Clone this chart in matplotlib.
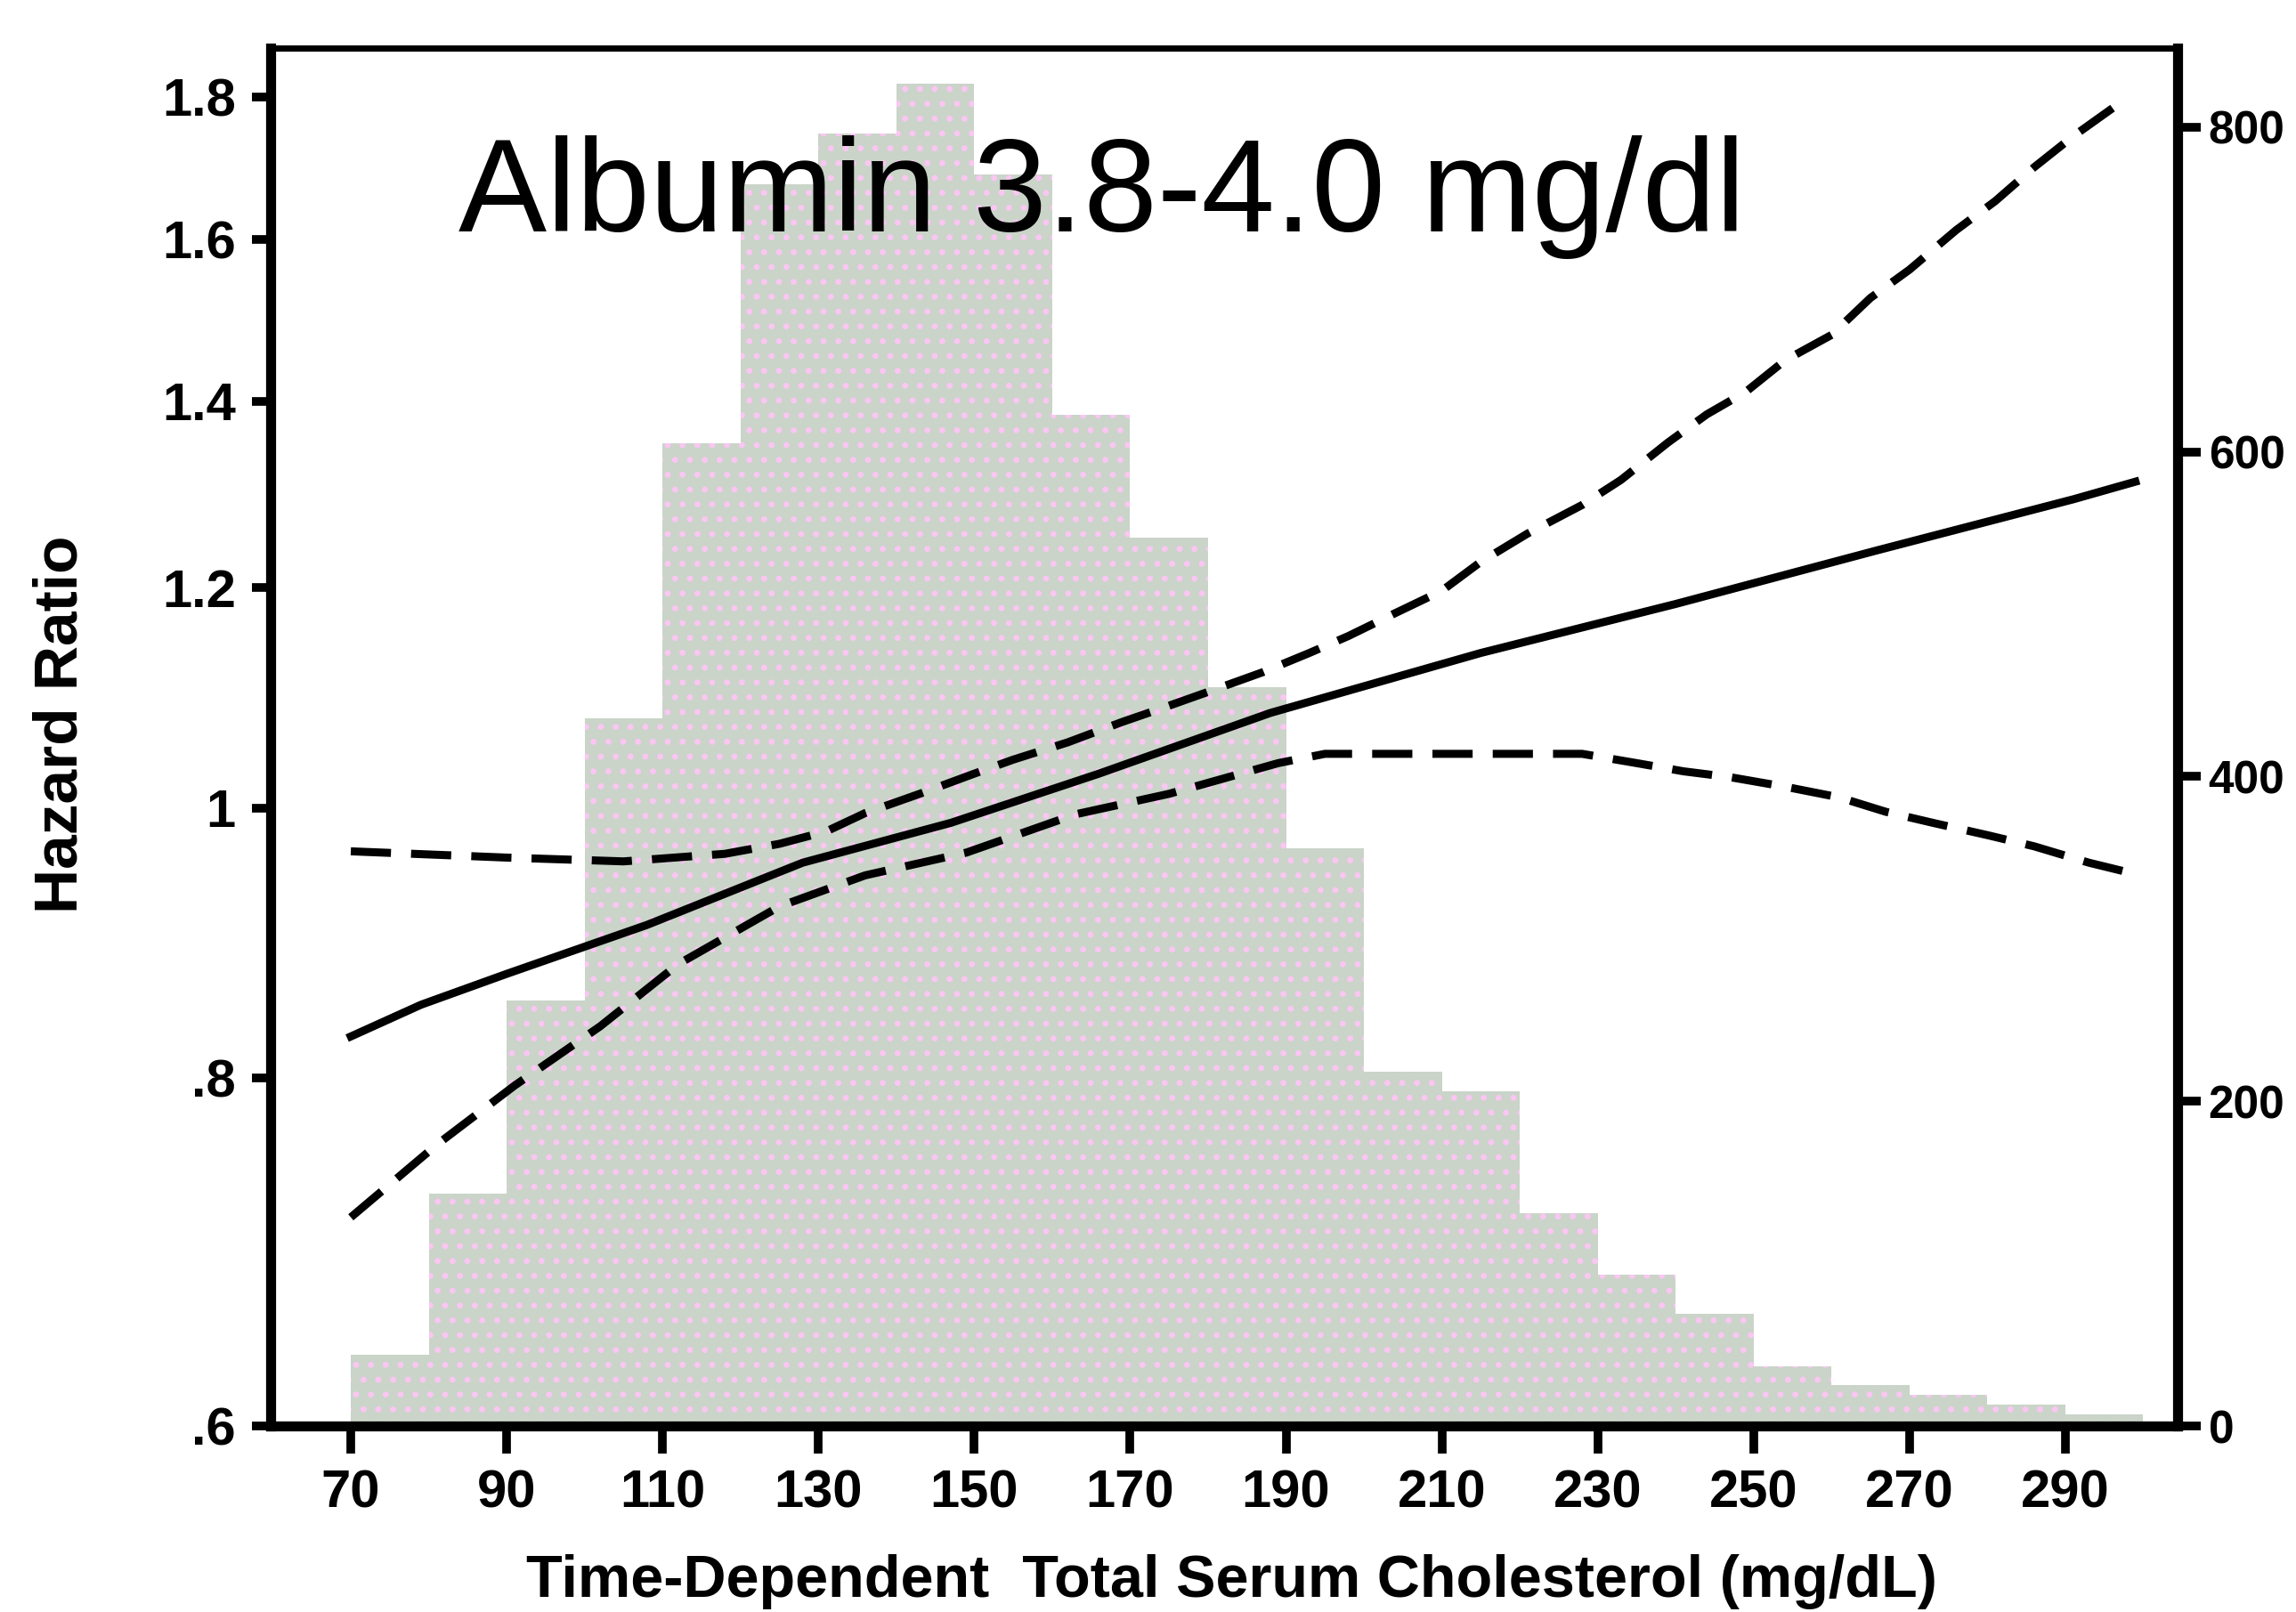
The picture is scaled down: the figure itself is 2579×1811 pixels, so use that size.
#!/usr/bin/env python
#
# Hazard ratio of time-dependent total serum cholesterol (albumin 3.8-4.0 mg/dl)
# with a histogram of the cholesterol distribution on the right axis.

import matplotlib
matplotlib.use("Agg")
import matplotlib.pyplot as plt
import matplotlib.ticker as mt

# Histogram: left edge of each 10 mg/dL bin and the number of observations
bin_starts = [70, 80, 90, 100, 110, 120, 130, 140, 150, 160, 170, 180,
              190, 200, 210, 220, 230, 240, 250, 260, 270, 280, 290]
counts = [44, 143, 262, 436, 605, 765, 796, 827, 771, 623, 547, 455,
          356, 218, 206, 131, 93, 69, 37, 25, 19, 13, 7]

# Hazard ratio curve
hr_x = [70, 79, 90, 108, 128, 147, 166, 188, 215, 240, 266, 291, 299]
hr = [0.828, 0.850, 0.872, 0.908, 0.956, 0.988, 1.029, 1.082, 1.137,
      1.184, 1.238, 1.291, 1.310]

# Upper confidence limit
upper_x = [70, 90, 105, 118, 125, 131, 136, 143, 150, 155, 162, 169, 174,
           180, 187, 193, 198, 204, 210, 215, 221, 228, 233, 239, 244, 249,
           254, 260, 265, 270, 276, 281, 286, 291, 298]
upper = [0.965, 0.960, 0.957, 0.963, 0.971, 0.981, 0.996, 1.012, 1.029,
         1.041, 1.056, 1.074, 1.086, 1.101, 1.119, 1.137, 1.153, 1.175,
         1.197, 1.226, 1.255, 1.285, 1.312, 1.353, 1.385, 1.411, 1.448,
         1.479, 1.525, 1.561, 1.613, 1.652, 1.699, 1.743, 1.800]

# Lower confidence limit
lower_x = [70, 81, 91, 102, 112, 125, 136, 149, 163, 175, 189, 195, 201,
           215, 228, 235, 241, 247, 254, 261, 267, 273, 280, 286, 293, 299]
lower = [0.713, 0.757, 0.795, 0.835, 0.879, 0.922, 0.946, 0.964, 0.995,
         1.012, 1.038, 1.046, 1.046, 1.046, 1.046, 1.038, 1.031, 1.026,
         1.018, 1.009, 0.997, 0.988, 0.978, 0.969, 0.956, 0.947]

x_ticks = [70, 90, 110, 130, 150, 170, 190, 210, 230, 250, 270, 290]
hr_ticks = [0.6, 0.8, 1.0, 1.2, 1.4, 1.6, 1.8]
hr_tick_labels = [".6", ".8", "1", "1.2", "1.4", "1.6", "1.8"]
count_ticks = [0, 200, 400, 600, 800]

plt.rcParams["font.family"] = ["Liberation Sans", "DejaVu Sans"]
plt.rcParams["hatch.linewidth"] = 2.5

fig = plt.figure(figsize=(25.79, 18.11), dpi=100)
ax = fig.add_axes([0.1177, 0.1154, 0.8307, 0.8548])
ax2 = ax.twinx()

# histogram on the right axis, behind the curves
ax2.bar(bin_starts, counts, width=10, align="edge", color="#CAD4C9",
        edgecolor="#FAC6F2", linewidth=0, hatch=".")
ax2.set_ylim(0, 848.7)
ax2.set_yticks(count_ticks)
ax2.set_yticklabels([str(c) for c in count_ticks])

ax.set_zorder(ax2.get_zorder() + 1)
ax.patch.set_visible(False)

dash = (0, (5, 2.5))
ax.plot(hr_x, hr, color="black", lw=6.5)
ax.plot(upper_x, upper, color="black", lw=6.5, ls=dash)
ax.plot(lower_x, lower, color="black", lw=6.5, ls=dash)

ax.set_yscale("log")
ax.set_ylim(0.6, 1.875)
ax.set_xlim(59.66, 304.4)
ax.set_yticks(hr_ticks)
ax.set_yticklabels(hr_tick_labels)
ax.yaxis.set_minor_locator(mt.NullLocator())
ax.yaxis.set_minor_formatter(mt.NullFormatter())
ax.set_xticks(x_ticks)
ax.set_xticklabels([str(t) for t in x_ticks])

for a in (ax, ax2):
    for side in ("left", "right", "bottom"):
        a.spines[side].set_linewidth(8)
    a.spines["top"].set_linewidth(5)
    a.tick_params(width=7, labelsize=43)

ax.tick_params(axis="x", length=22, pad=13)
ax.tick_params(axis="y", length=15, pad=13)
# right labels are kept small enough to stay inside the figure
ax2.tick_params(axis="y", length=19, pad=6, labelsize=37)

for lbl in ax.get_xticklabels() + ax.get_yticklabels() + ax2.get_yticklabels():
    lbl.set_fontweight("bold")

fig.text(0.1997, 0.8564, "Albumin 3.8-4.0 mg/dl", fontsize=107,
         ha="left", va="baseline")
fig.text(0.0264, 0.5505, "Hazard Ratio", fontsize=50, fontweight="bold",
         rotation=90, ha="center", va="center")
fig.text(0.5366, 0.0188, "Time-Dependent  Total Serum Cholesterol (mg/dL)",
         fontsize=48, fontweight="bold", ha="center", va="center")

fig.savefig("out.png", dpi=100)
